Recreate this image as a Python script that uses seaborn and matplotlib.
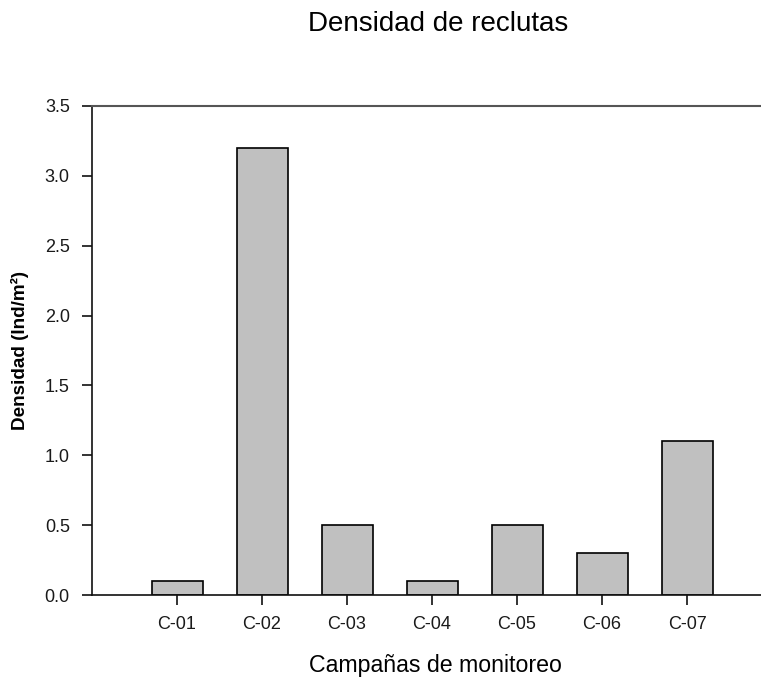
import matplotlib
matplotlib.use('Agg')
import matplotlib.pyplot as plt
import seaborn as sns
import pandas as pd

campanas = ['C-01', 'C-02', 'C-03', 'C-04', 'C-05', 'C-06', 'C-07']
densidad = [0.1, 3.2, 0.5, 0.1, 0.5, 0.3, 1.1]
yticks = [0.0, 0.5, 1.0, 1.5, 2.0, 2.5, 3.0, 3.5]

sns.set_style('white')
plt.rcParams['font.family'] = ['Liberation Sans', 'DejaVu Sans']

df = pd.DataFrame({'campana': campanas, 'densidad': densidad})

fig = plt.figure(figsize=(7.61, 6.79), dpi=100)
ax = fig.add_axes([92 / 761, (679 - 595) / 679, (761 - 92) / 761, (595 - 106) / 679])

sns.barplot(data=df, x='campana', y='densidad', color='#c0c0c0', saturation=1,
            edgecolor='black', linewidth=1.2, width=0.6, ax=ax)

ax.set_xlim(-1, 6.87)
ax.set_ylim(0, 3.5)
ax.set_yticks(yticks)
ax.set_yticklabels([f'{v:.1f}' for v in yticks])

for side in ['left', 'bottom']:
    ax.spines[side].set_color('#111111')
    ax.spines[side].set_linewidth(1.2)
ax.spines['top'].set_color('#555555')
ax.spines['top'].set_linewidth(1.5)
ax.spines['right'].set_visible(False)

ax.tick_params(axis='both', direction='out', length=7, width=1.2, color='#111111',
               labelsize=13, labelcolor='#1a1a1a', bottom=True, left=True)
ax.tick_params(axis='y', pad=9)
ax.tick_params(axis='x', pad=8)

ax.set_xlabel('Campañas de monitoreo', fontsize=16.7, labelpad=15, color='black')
ax.xaxis.label.set_x((435 - 92) / 669)
ax.set_ylabel('Densidad (Ind/m²)', fontsize=13.6, labelpad=11, color='black',
              fontweight='bold')
fig.text(438 / 761, 1 - 24 / 679, 'Densidad de reclutas', fontsize=20,
         ha='center', va='center', color='black')

fig.savefig('out.png', dpi=100)
